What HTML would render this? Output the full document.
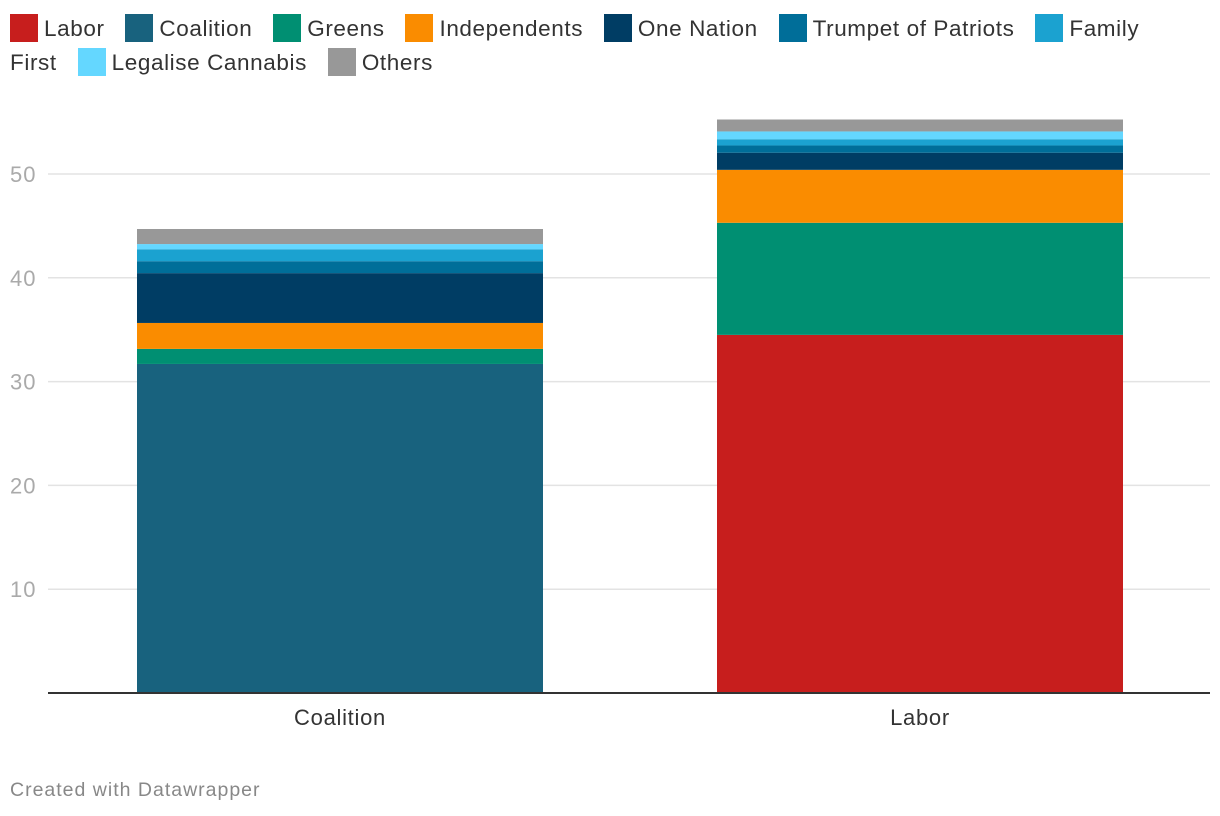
<!DOCTYPE html>
<html><head><meta charset="utf-8"><style>
body{margin:0;width:1220px;height:816px;background:#fff;font-family:"Liberation Sans",sans-serif;overflow:hidden;position:relative}
#legend{position:absolute;left:10px;top:12px;width:1160px;font-size:22.5px;color:#333;line-height:34px;letter-spacing:0.6px}
.li{display:inline;margin-right:14px}
.sw{display:inline-block;width:28px;height:28px;vertical-align:-6px;margin-right:6px}
#foot{position:absolute;left:10px;top:779px;font-size:19.5px;color:#888;letter-spacing:1px}
</style></head><body>
<div id="legend"></div>
<svg id="chart" width="1220" height="816" style="position:absolute;left:0;top:0"></svg>
<div id="foot">Created with Datawrapper</div>
<script>
const categories=["Coalition","Labor"];
const seriesNames=["Labor","Coalition","Greens","Independents","One Nation","Trumpet of Patriots","Family First","Legalise Cannabis","Others"];
const colors=["#c71e1d","#18627e","#008f72","#fa8c00","#003d64","#006e99","#1ba2d0","#64d7ff","#989898"];
const coalitionValues=[0,31.7,1.45,2.5,4.8,1.15,1.15,0.5,1.45];
const laborValues=[34.5,0,10.8,5.1,1.65,0.7,0.6,0.75,1.15];
const yTicks=[10,20,30,40,50];
const values=[coalitionValues,laborValues];
const NS="http://www.w3.org/2000/svg";
const svg=document.getElementById('chart');
const y0=693,pxPer=10.38;
const y=v=>y0-v*pxPer;
const bandX=i=>137+i*580;
const bw=406;
const leg=document.getElementById('legend');
seriesNames.forEach((n,i)=>{
 const s=document.createElement('span');s.className='li';
 
 
 s.innerHTML='<span class="sw" style="background:'+colors[i]+'"></span>'+n;
 leg.appendChild(s);
 leg.appendChild(document.createTextNode(' '));
});
function mk(t,a){const e=document.createElementNS(NS,t);for(const k in a)e.setAttribute(k,a[k]);svg.appendChild(e);return e;}
yTicks.forEach(t=>{
 const l=mk('line',{x1:48,x2:1210,y1:y(t),y2:y(t),stroke:'#e3e3e3','stroke-width':1.5});
 
 
 const tx=mk('text',{x:10,y:y(t)+8,'font-size':22,fill:'#aaa','font-family':'Liberation Sans','letter-spacing':1});
 tx.textContent=t;
 
 
});
categories.forEach((c,ci)=>{
 let acc=0;
 values[ci].forEach((v,si)=>{
  if(v<=0)return;
  const r=mk('rect',{x:bandX(ci),width:bw,y:y(acc+v),height:v*pxPer,fill:colors[si]});
  
  
  acc+=v;
 });
 const tx=mk('text',{x:bandX(ci)+bw/2,y:725,'font-size':22,fill:'#333','text-anchor':'middle','font-family':'Liberation Sans','letter-spacing':0.7});
 tx.textContent=c;
 
 
});
const ax=mk('line',{x1:48,x2:1210,y1:y0,y2:y0,stroke:'#333','stroke-width':2});


</script>
</body></html>
